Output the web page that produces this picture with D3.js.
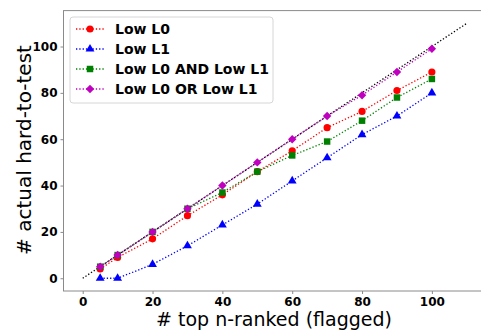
<!DOCTYPE html>
<html>
<head>
<meta charset="utf-8">
<script src="https://cdn.jsdelivr.net/npm/d3@7"></script>
<style>
  body { margin: 0; background: #fff; }
  svg { display: block; font-family: "DejaVu Sans", sans-serif; }
</style>
</head>
<body>
<svg width="481" height="331"></svg>
<script>
// values
const topN = [5, 10, 20, 30, 40, 50, 60, 70, 80, 90, 100];
const lowL0 = [4, 9, 17, 27, 36, 46, 55, 65, 72, 81, 89];
const lowL1 = [0, 0, 6, 14, 23, 32, 42, 52, 62, 70, 80];
const lowAnd = [5, 10, 20, 30, 37, 46, 53, 59, 68, 78, 86];
const lowOr = [5, 10, 20, 30, 40, 50, 60, 70, 79, 89, 99];
const diagonal = [0, 110];
const xTicks = [0, 20, 40, 60, 80, 100];
const yTicks = [0, 20, 40, 60, 80, 100];

// matplotlib-like diamond: a square turned 45 degrees
const diamond = {
    draw(ctx, size) {
        const r = Math.sqrt(size) / 2 * 1.3;
        ctx.moveTo(0, -r);
        ctx.lineTo(r, 0);
        ctx.lineTo(0, r);
        ctx.lineTo(-r, 0);
        ctx.closePath();
    }
};

const series = [
    { name: "Low L0", values: lowL0, color: "#ff0000", shape: d3.symbolCircle, size: 40 },
    { name: "Low L1", values: lowL1, color: "#0000ff", shape: d3.symbolTriangle, size: 34 },
    { name: "Low L0 AND Low L1", values: lowAnd, color: "#008000", shape: d3.symbolSquare, size: 42 },
    { name: "Low L0 OR Low L1", values: lowOr, color: "#bf00bf", shape: diamond, size: 42 }
];

const svg = d3.select("svg");

const x = d3.scaleLinear().domain([-5.5, 115.5]).range([63.5, 486]);
const y = d3.scaleLinear().domain([-5.5, 115.5]).range([291, 10.6]);

// frame
svg.append("rect")
    .attr("x", x(-5.5)).attr("y", y(115.5))
    .attr("width", x(115.5) - x(-5.5)).attr("height", y(-5.5) - y(115.5))
    .attr("fill", "none").attr("stroke", "#8a8a8a").attr("stroke-width", 1);

// x axis
const xAxis = svg.append("g")
    .attr("transform", `translate(0,${y(-5.5)})`)
    .call(d3.axisBottom(x).tickValues(xTicks).tickSize(3).tickPadding(3));
xAxis.select(".domain").remove();
xAxis.selectAll("line").attr("stroke", "#8a8a8a");
xAxis.selectAll("text")
    .attr("font-size", 12).attr("font-weight", "bold")
    .attr("font-family", "DejaVu Sans").attr("fill", "#000");

// y axis
const yAxis = svg.append("g")
    .attr("transform", `translate(${x(-5.5)},0)`)
    .call(d3.axisLeft(y).tickValues(yTicks).tickSize(3).tickPadding(3));
yAxis.select(".domain").remove();
yAxis.selectAll("line").attr("stroke", "#8a8a8a");
yAxis.selectAll("text")
    .attr("font-size", 12).attr("font-weight", "bold")
    .attr("font-family", "DejaVu Sans").attr("fill", "#000");

// axis titles
svg.append("text")
    .attr("x", 274).attr("y", 326)
    .attr("text-anchor", "middle")
    .attr("font-size", 19)
    .text("# top n-ranked (flagged)");

svg.append("text")
    .attr("transform", "translate(31,150) rotate(-90)")
    .attr("text-anchor", "middle")
    .attr("font-size", 20)
    .text("# actual hard-to-test");

// reference line y = x
svg.append("line")
    .attr("x1", x(diagonal[0])).attr("y1", y(diagonal[0]))
    .attr("x2", x(diagonal[1])).attr("y2", y(diagonal[1]))
    .attr("stroke", "#000").attr("stroke-width", 1.3)
    .attr("stroke-dasharray", "1.3,2");

const line = d3.line()
    .x((d, i) => x(topN[i]))
    .y(d => y(d));

series.forEach(s => {
    svg.append("path")
        .attr("d", line(s.values))
        .attr("fill", "none")
        .attr("stroke", s.color)
        .attr("stroke-width", 1.3)
        .attr("stroke-dasharray", "1.3,2");
    svg.selectAll(null)
        .data(s.values)
        .enter()
        .append("path")
        .attr("d", d3.symbol().type(s.shape).size(s.size))
        .attr("transform", (d, i) => `translate(${x(topN[i])},${y(d)})`)
        .attr("fill", s.color);
});

// legend
const legend = svg.append("g");
legend.append("rect")
    .attr("x", 70).attr("y", 17)
    .attr("width", 203).attr("height", 86)
    .attr("rx", 3)
    .attr("fill", "#fff").attr("fill-opacity", 0.8)
    .attr("stroke", "#d6d6d6");

series.forEach((s, i) => {
    const ly = 29 + i * 20;
    legend.append("line")
        .attr("x1", 76).attr("x2", 104)
        .attr("y1", ly).attr("y2", ly)
        .attr("stroke", s.color).attr("stroke-width", 1.3)
        .attr("stroke-dasharray", "1.3,2");
    legend.append("path")
        .attr("d", d3.symbol().type(s.shape).size(s.size))
        .attr("transform", `translate(90,${ly})`)
        .attr("fill", s.color);
    legend.append("text")
        .attr("x", 115).attr("y", ly + 5)
        .attr("font-size", 14).attr("font-weight", "bold")
        .text(s.name);
});
</script>
</body>
</html>
